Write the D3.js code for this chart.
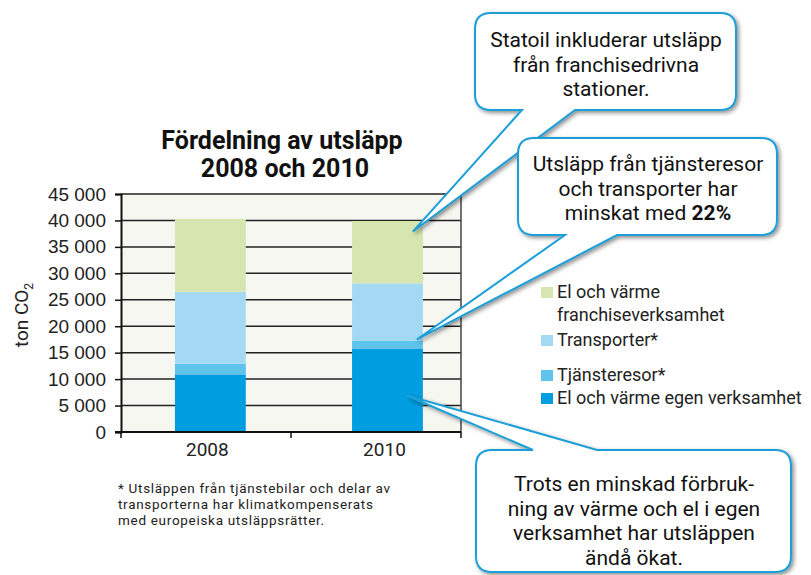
<!DOCTYPE html>
<html>
<head>
<meta charset="utf-8">
<script src="https://cdn.jsdelivr.net/npm/d3@7"></script>
<style>
  body { margin: 0; background: #fff; }
  svg { font-family: Roboto, "DejaVu Sans", sans-serif; }
</style>
</head>
<body>
<svg id="chart" width="811" height="575"></svg>
<script>
// data (ton CO2)
const years = ["2008", "2010"];
const egenVerksamhet = [10900, 15800];
const tjansteresor = [2000, 1500];
const transporter = [13600, 10800];
const franchise = [13800, 11800];
const seriesNames = ["El och värme egen verksamhet", "Tjänsteresor*", "Transporter*", "El och värme franchiseverksamhet"];
const yTicks = [0, 5000, 10000, 15000, 20000, 25000, 30000, 35000, 40000, 45000];

const colors = ["#009ee0", "#5ec4ec", "#a4d9f4", "#d7e5b1"];

const svg = d3.select("#chart");

const defs = svg.append("defs");
const shadow = defs.append("filter").attr("id", "shadow")
  .attr("x", "-10%").attr("y", "-10%").attr("width", "130%").attr("height", "130%");
shadow.append("feDropShadow")
  .attr("dx", 2).attr("dy", 2).attr("stdDeviation", 2)
  .attr("flood-color", "#000").attr("flood-opacity", 0.45);

// plot area
const plot = { left: 121, right: 461, top: 194, bottom: 432 };

const y = d3.scaleLinear().domain([0, 45000]).range([plot.bottom, plot.top]);
const x = d3.scaleBand().domain(years)
  .range([plot.left, plot.right])
  .paddingInner(0.6).paddingOuter(0.26).align(0.586);

const table = years.map((yr, i) => ({
  year: yr,
  [seriesNames[0]]: egenVerksamhet[i],
  [seriesNames[1]]: tjansteresor[i],
  [seriesNames[2]]: transporter[i],
  [seriesNames[3]]: franchise[i]
}));
const stacked = d3.stack().keys(seriesNames)(table);

// background
svg.append("rect")
  .attr("x", plot.left).attr("y", plot.top)
  .attr("width", plot.right - plot.left).attr("height", plot.bottom - plot.top)
  .attr("fill", "#f7f7f2");

// gridlines
svg.append("g").selectAll("line")
  .data(yTicks.slice(1))
  .join("line")
  .attr("x1", plot.left).attr("x2", plot.right)
  .attr("y1", d => y(d)).attr("y2", d => y(d))
  .attr("stroke", "#222").attr("stroke-width", 1.5);

svg.append("line")
  .attr("x1", plot.right).attr("x2", plot.right)
  .attr("y1", plot.top).attr("y2", plot.bottom)
  .attr("stroke", "#444").attr("stroke-width", 1.5);

// bars
svg.append("g").selectAll("g")
  .data(stacked)
  .join("g")
  .attr("fill", (d, i) => colors[i])
  .selectAll("rect")
  .data(d => d)
  .join("rect")
  .attr("x", d => x(d.data.year))
  .attr("width", x.bandwidth())
  .attr("y", d => y(d[1]))
  .attr("height", d => y(d[0]) - y(d[1]));

// y axis
const yAxis = svg.append("g")
  .attr("transform", `translate(${plot.left},0)`)
  .call(d3.axisLeft(y).tickValues(yTicks).tickSize(6).tickPadding(9)
    .tickFormat(d => d3.format(",")(d).replace(/,/g, " ")));
yAxis.select(".domain").attr("stroke", "#111").attr("stroke-width", 2);
yAxis.selectAll(".tick line").attr("stroke", "#111").attr("stroke-width", 1.5);
yAxis.selectAll("text").attr("font-size", 19).attr("fill", "#222");

// x axis
svg.append("line")
  .attr("x1", plot.left - 6).attr("x2", plot.right)
  .attr("y1", plot.bottom).attr("y2", plot.bottom)
  .attr("stroke", "#111").attr("stroke-width", 2);
svg.append("g").selectAll("line")
  .data([plot.left, (plot.left + plot.right) / 2, plot.right])
  .join("line")
  .attr("x1", d => d).attr("x2", d => d)
  .attr("y1", plot.bottom).attr("y2", plot.bottom + 6)
  .attr("stroke", "#111").attr("stroke-width", 1.5);
svg.append("g").selectAll("text")
  .data(years)
  .join("text")
  .attr("x", d => x(d) + x.bandwidth() / 2 - 3)
  .attr("y", 456)
  .attr("text-anchor", "middle")
  .attr("font-size", 19).attr("fill", "#222")
  .text(d => d);

// y label
const yl = svg.append("text")
  .attr("transform", "translate(28,315) rotate(-90)")
  .attr("text-anchor", "middle")
  .attr("font-size", 19).attr("fill", "#222");
yl.append("tspan").text("ton CO");
yl.append("tspan").attr("font-size", 12).attr("dy", 5).text("2");

// title
svg.append("text")
  .attr("x", 282).attr("y", 149)
  .attr("text-anchor", "middle")
  .attr("font-size", 25).attr("font-weight", "bold").attr("fill", "#111")
  .text("Fördelning av utsläpp");
svg.append("text")
  .attr("x", 285).attr("y", 177)
  .attr("text-anchor", "middle")
  .attr("font-size", 25).attr("font-weight", "bold").attr("fill", "#111")
  .text("2008 och 2010");

// legend (top to bottom: franchise, transporter, tjänsteresor, egen)
const legendItems = [
  { idx: 3, lines: ["El och värme", "franchiseverksamhet"], y: 292 },
  { idx: 2, lines: ["Transporter*"], y: 340 },
  { idx: 1, lines: ["Tjänsteresor*"], y: 375 },
  { idx: 0, lines: ["El och värme egen verksamhet"], y: 398 }
];
const legend = svg.append("g").selectAll("g")
  .data(legendItems)
  .join("g");
legend.append("rect")
  .attr("x", 541).attr("y", d => d.y - 5)
  .attr("width", 12).attr("height", 11)
  .attr("fill", d => colors[d.idx]);
legend.each(function (d) {
  const t = d3.select(this).append("text")
    .attr("x", 557).attr("y", d.y + 6)
    .attr("font-size", 18).attr("fill", "#222");
  d.lines.forEach((l, i) => {
    t.append("tspan").attr("x", 557).attr("dy", i === 0 ? 0 : 23).text(l);
  });
});

// footnote
const footLines = ["* Utsläppen från tjänstebilar och delar av",
  "transporterna har klimatkompenserats",
  "med europeiska utsläppsrätter."];
svg.append("g").selectAll("text")
  .data(footLines)
  .join("text")
  .attr("x", 118).attr("y", (d, i) => 493 + i * 16)
  .attr("font-size", 13.5).attr("letter-spacing", 0.7).attr("fill", "#222")
  .text(d => d);

// callouts
function calloutPath(b, r) {
  const { x0, y0, x1, y1, p1, p2, tx, ty, side } = b;
  if (side === "bottom") {
    return `M${x0 + r},${y0} H${x1 - r} Q${x1},${y0} ${x1},${y0 + r} V${y1 - r} Q${x1},${y1} ${x1 - r},${y1}` +
      ` H${p2} L${tx},${ty} L${p1},${y1} H${x0 + r} Q${x0},${y1} ${x0},${y1 - r} V${y0 + r} Q${x0},${y0} ${x0 + r},${y0} Z`;
  }
  return `M${x0 + r},${y0} H${p1} L${tx},${ty} L${p2},${y0} H${x1 - r} Q${x1},${y0} ${x1},${y0 + r} V${y1 - r}` +
    ` Q${x1},${y1} ${x1 - r},${y1} H${x0 + r} Q${x0},${y1} ${x0},${y1 - r} V${y0 + r} Q${x0},${y0} ${x0 + r},${y0} Z`;
}

const barRight = x("2010") + x.bandwidth();
const callouts = [
  { x0: 475, y0: 13, x1: 736, y1: 110, p1: 522, p2: 575, side: "bottom",
    tx: barRight - 10, ty: y(37900), cx: 606, ty0: 47,
    lines: [["Statoil inkluderar utsläpp"], ["från franchisedrivna"], ["stationer."]] },
  { x0: 518, y0: 138, x1: 777, y1: 235, p1: 565, p2: 617, side: "bottom",
    tx: barRight - 6, ty: y(17500), cx: 648, ty0: 171,
    lines: [["Utsläpp från tjänsteresor"], ["och transporter har"], ["minskat med ", "22%"]] },
  { x0: 476, y0: 450, x1: 791, y1: 572, p1: 533, p2: 597, side: "top",
    tx: barRight - 16, ty: y(6900), cx: 634, ty0: 491,
    lines: [["Trots en minskad förbruk-"], ["ning av värme och el i egen"], ["verksamhet har utsläppen"], ["ändå ökat."]] }
];

callouts.forEach(c => {
  svg.append("path")
    .attr("d", calloutPath(c, 16))
    .attr("fill", "#fff")
    .attr("stroke", "#1c9fd8").attr("stroke-width", 2)
    .attr("filter", "url(#shadow)");
  c.lines.forEach((parts, i) => {
    const t = svg.append("text")
      .attr("x", c.cx).attr("y", c.ty0 + i * 24.5)
      .attr("text-anchor", "middle")
      .attr("font-size", 21).attr("fill", "#111");
    parts.forEach((p, j) => {
      t.append("tspan").attr("font-weight", j === 1 ? "bold" : null).text(p);
    });
  });
});
</script>
</body>
</html>
